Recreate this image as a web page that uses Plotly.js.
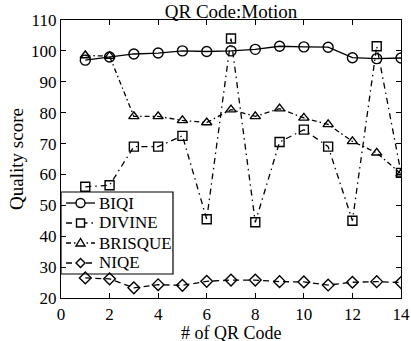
<!DOCTYPE html>
<html>
<head>
<meta charset="utf-8">
<script src="https://cdn.plot.ly/plotly-3.0.1.min.js"></script>
<style>html,body{margin:0;padding:0;background:#fff;}#chart{width:411px;height:341px;}</style>
</head>
<body>
<div id="chart"></div>
<script>
var qrCodes = [1,2,3,4,5,6,7,8,9,10,11,12,13,14];
var biqi    = [97.0,98.0,99.0,99.3,100.0,99.8,100.0,100.5,101.5,101.3,101.2,97.8,97.5,97.7];
var divine  = [56.0,56.5,69.0,69.0,72.5,45.5,104.0,44.5,70.5,74.5,69.0,45.0,101.5,60.5];
var brisque = [98.5,98.3,78.8,78.8,77.5,76.8,81.0,78.8,81.3,78.3,76.2,70.7,67.0,60.2];
var niqe    = [26.5,26.2,23.3,24.3,24.1,25.4,25.8,25.8,25.3,25.2,24.2,25.1,25.3,25.0];
var seriesNames = ['BIQI','DIVINE','BRISQUE','NIQE'];
var xTicks = [0,2,4,6,8,10,12,14];
var yTicks = [20,30,40,50,60,70,80,90,100,110];
var xTitle = '# of QR Code';

var F = "Liberation Serif, Times New Roman, serif";
var styles = [
  {dash: 'solid', sym: 'circle', size: 10},
  {dash: '6px,4px,1.5px,4px', sym: 'square', size: 9},
  {dash: '5px,3px,1.5px,3px', sym: 'triangle-up', size: 9},
  {dash: '6px,4px', sym: 'diamond', size: 9}
];
var values = [biqi, divine, brisque, niqe];
var data = values.map(function (y, i) {
  return {x: qrCodes, y: y, name: seriesNames[i], type: 'scatter', mode: 'lines+markers', showlegend: false,
    line: {color: '#000', width: 1.3, dash: styles[i].dash},
    marker: {symbol: styles[i].sym, size: styles[i].size, color: 'rgba(255,255,255,0)', line: {color: '#000', width: 1.4}}};
});

// hand-drawn legend box (paper coordinates, pixel-sized samples)
var shapes = [{type: 'rect', xref: 'paper', yref: 'paper', x0: 0, x1: 0.3294, y0: 0.0863, y1: 0.3813,
  line: {color: '#000', width: 1.2}, fillcolor: '#fff', layer: 'below'}];
var annotations = [];
var rowY = [0.3417, 0.2698, 0.1978, 0.1259];
var lx0 = 0.0147, lx1 = 0.100, mx = 0.0574, tx = 0.1060;
var mk = {
  circle: {type: 'circle', x0: -4.5, x1: 4.5, y0: -4.5, y1: 4.5},
  square: {type: 'rect', x0: -4, x1: 4, y0: -4, y1: 4},
  'triangle-up': {type: 'path', path: 'M-4.5,-3 L4.5,-3 L0,4.5 Z'},
  diamond: {type: 'path', path: 'M0,-4.5 L4.5,0 L0,4.5 L-4.5,0 Z'}
};
seriesNames.forEach(function (n, i) {
  shapes.push({type: 'line', xref: 'paper', yref: 'paper', x0: lx0, x1: lx1, y0: rowY[i], y1: rowY[i],
    line: {color: '#000', width: 1.3, dash: styles[i].dash}, layer: 'above'});
  var m = Object.assign({xref: 'paper', yref: 'paper', xsizemode: 'pixel', ysizemode: 'pixel',
    xanchor: mx, yanchor: rowY[i], fillcolor: '#fff', line: {color: '#000', width: 1.4}, layer: 'above'}, mk[styles[i].sym]);
  shapes.push(m);
  annotations.push({xref: 'paper', yref: 'paper', x: tx, y: rowY[i], xanchor: 'left', yanchor: 'middle',
    text: n, showarrow: false, font: {family: F, size: 17, color: '#000'}});
});
// x-axis title placed just below the tick labels
annotations.push({xref: 'paper', yref: 'paper', x: 0.5, y: -0.084, xanchor: 'center', yanchor: 'top',
  text: xTitle, showarrow: false, font: {family: F, size: 18, color: '#000'}});

var axisCommon = {showgrid: false, zeroline: false, showline: true, linecolor: '#000', linewidth: 1.2,
  mirror: 'ticks', ticks: 'inside', ticklen: 5, tickcolor: '#000', tickwidth: 1.2,
  tickfont: {family: F, size: 17, color: '#000'}};
var layout = {
  width: 411, height: 341,
  margin: {l: 61, r: 10, t: 20, b: 43},
  paper_bgcolor: '#fff', plot_bgcolor: '#fff',
  font: {family: F, color: '#000'},
  title: {text: 'QR Code:Motion', font: {family: F, size: 19, color: '#000'}, xref: 'paper', x: 0.5, xanchor: 'center', y: 0.968, yanchor: 'middle'},
  xaxis: Object.assign({}, axisCommon, {range: [0, 14], tickvals: xTicks}),
  yaxis: Object.assign({}, axisCommon, {range: [20, 110], tickvals: yTicks,
    title: {text: 'Quality score', font: {family: F, size: 19, color: '#000'}, standoff: 2}}),
  showlegend: false,
  shapes: shapes,
  annotations: annotations
};
Plotly.newPlot('chart', data, layout, {displayModeBar: false, staticPlot: true});
</script>
</body>
</html>
